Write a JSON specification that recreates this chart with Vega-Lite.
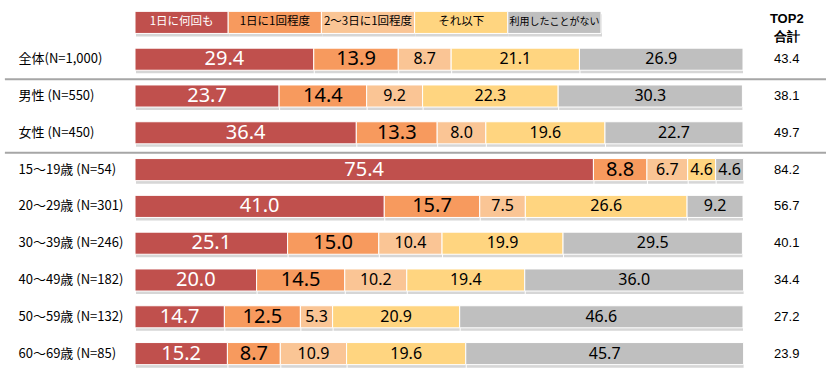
{
  "$schema": "https://vega.github.io/schema/vega-lite/v6.json",
  "width": 608,
  "height": 368,
  "autosize": {"type": "none"},
  "padding": {"left": 135, "top": 4, "right": 83, "bottom": 12},
  "background": "white",
  "config": {"view": {"stroke": null}},
  "datasets": {
    "bars": [
      {"row": "全体(N=1,000)", "k": 1, "cat": "1日に何回も", "value": 29.4},
      {"row": "全体(N=1,000)", "k": 2, "cat": "1日に1回程度", "value": 13.9},
      {"row": "全体(N=1,000)", "k": 3, "cat": "2～3日に1回程度", "value": 8.7},
      {"row": "全体(N=1,000)", "k": 4, "cat": "それ以下", "value": 21.1},
      {"row": "全体(N=1,000)", "k": 5, "cat": "利用したことがない", "value": 26.9},
      {"row": "男性 (N=550)", "k": 1, "cat": "1日に何回も", "value": 23.7},
      {"row": "男性 (N=550)", "k": 2, "cat": "1日に1回程度", "value": 14.4},
      {"row": "男性 (N=550)", "k": 3, "cat": "2～3日に1回程度", "value": 9.2},
      {"row": "男性 (N=550)", "k": 4, "cat": "それ以下", "value": 22.3},
      {"row": "男性 (N=550)", "k": 5, "cat": "利用したことがない", "value": 30.3},
      {"row": "女性 (N=450)", "k": 1, "cat": "1日に何回も", "value": 36.4},
      {"row": "女性 (N=450)", "k": 2, "cat": "1日に1回程度", "value": 13.3},
      {"row": "女性 (N=450)", "k": 3, "cat": "2～3日に1回程度", "value": 8.0},
      {"row": "女性 (N=450)", "k": 4, "cat": "それ以下", "value": 19.6},
      {"row": "女性 (N=450)", "k": 5, "cat": "利用したことがない", "value": 22.7},
      {"row": "15～19歳 (N=54)", "k": 1, "cat": "1日に何回も", "value": 75.4},
      {"row": "15～19歳 (N=54)", "k": 2, "cat": "1日に1回程度", "value": 8.8},
      {"row": "15～19歳 (N=54)", "k": 3, "cat": "2～3日に1回程度", "value": 6.7},
      {"row": "15～19歳 (N=54)", "k": 4, "cat": "それ以下", "value": 4.6},
      {"row": "15～19歳 (N=54)", "k": 5, "cat": "利用したことがない", "value": 4.6},
      {"row": "20～29歳 (N=301)", "k": 1, "cat": "1日に何回も", "value": 41.0},
      {"row": "20～29歳 (N=301)", "k": 2, "cat": "1日に1回程度", "value": 15.7},
      {"row": "20～29歳 (N=301)", "k": 3, "cat": "2～3日に1回程度", "value": 7.5},
      {"row": "20～29歳 (N=301)", "k": 4, "cat": "それ以下", "value": 26.6},
      {"row": "20～29歳 (N=301)", "k": 5, "cat": "利用したことがない", "value": 9.2},
      {"row": "30～39歳 (N=246)", "k": 1, "cat": "1日に何回も", "value": 25.1},
      {"row": "30～39歳 (N=246)", "k": 2, "cat": "1日に1回程度", "value": 15.0},
      {"row": "30～39歳 (N=246)", "k": 3, "cat": "2～3日に1回程度", "value": 10.4},
      {"row": "30～39歳 (N=246)", "k": 4, "cat": "それ以下", "value": 19.9},
      {"row": "30～39歳 (N=246)", "k": 5, "cat": "利用したことがない", "value": 29.5},
      {"row": "40～49歳 (N=182)", "k": 1, "cat": "1日に何回も", "value": 20.0},
      {"row": "40～49歳 (N=182)", "k": 2, "cat": "1日に1回程度", "value": 14.5},
      {"row": "40～49歳 (N=182)", "k": 3, "cat": "2～3日に1回程度", "value": 10.2},
      {"row": "40～49歳 (N=182)", "k": 4, "cat": "それ以下", "value": 19.4},
      {"row": "40～49歳 (N=182)", "k": 5, "cat": "利用したことがない", "value": 36.0},
      {"row": "50～59歳 (N=132)", "k": 1, "cat": "1日に何回も", "value": 14.7},
      {"row": "50～59歳 (N=132)", "k": 2, "cat": "1日に1回程度", "value": 12.5},
      {"row": "50～59歳 (N=132)", "k": 3, "cat": "2～3日に1回程度", "value": 5.3},
      {"row": "50～59歳 (N=132)", "k": 4, "cat": "それ以下", "value": 20.9},
      {"row": "50～59歳 (N=132)", "k": 5, "cat": "利用したことがない", "value": 46.6},
      {"row": "60～69歳 (N=85)", "k": 1, "cat": "1日に何回も", "value": 15.2},
      {"row": "60～69歳 (N=85)", "k": 2, "cat": "1日に1回程度", "value": 8.7},
      {"row": "60～69歳 (N=85)", "k": 3, "cat": "2～3日に1回程度", "value": 10.9},
      {"row": "60～69歳 (N=85)", "k": 4, "cat": "それ以下", "value": 19.6},
      {"row": "60～69歳 (N=85)", "k": 5, "cat": "利用したことがない", "value": 45.7}
    ],
    "rows": [
      {"row": "全体(N=1,000)", "top2": 43.4},
      {"row": "男性 (N=550)", "top2": 38.1},
      {"row": "女性 (N=450)", "top2": 49.7},
      {"row": "15～19歳 (N=54)", "top2": 84.2},
      {"row": "20～29歳 (N=301)", "top2": 56.7},
      {"row": "30～39歳 (N=246)", "top2": 40.1},
      {"row": "40～49歳 (N=182)", "top2": 34.4},
      {"row": "50～59歳 (N=132)", "top2": 27.2},
      {"row": "60～69歳 (N=85)", "top2": 23.9}
    ],
    "separators": [
      {"row": "全体(N=1,000)"},
      {"row": "女性 (N=450)"}
    ],
    "legend": [
      {"cat": "1日に何回も", "k": 1},
      {"cat": "1日に1回程度", "k": 2},
      {"cat": "2～3日に1回程度", "k": 3},
      {"cat": "それ以下", "k": 4},
      {"cat": "利用したことがない", "k": 5}
    ]
  },
  "layer": [
    {
      "layer": [
        {
          "data": {"name": "bars"},
          "transform": [
            {"stack": "value", "groupby": ["row"], "sort": [{"field": "k"}], "as": ["x0", "x1"]}
          ],
          "mark": {"type": "bar", "color": "#d6d6d6", "xOffset": 1, "yOffset": 3},
          "encoding": {
            "y": {
              "field": "row", "type": "nominal",
              "scale": {
                "domain": ["legend", "全体(N=1,000)", "男性 (N=550)", "女性 (N=450)", "15～19歳 (N=54)", "20～29歳 (N=301)", "30～39歳 (N=246)", "40～49歳 (N=182)", "50～59歳 (N=132)", "60～69歳 (N=85)"],
                "paddingInner": 0.4, "paddingOuter": 0.2
              },
              "axis": {
                "title": null, "domain": false, "ticks": false,
                "labelAlign": "left", "labelPadding": 117,
                "labelFont": "Noto Sans CJK JP", "labelFontSize": 13, "labelColor": "#000000",
                "labelExpr": "datum.value == 'legend' ? '' : datum.value"
              }
            },
            "x": {"field": "x0", "type": "quantitative", "scale": {"domain": [0, 100], "nice": false, "zero": false}, "axis": null},
            "x2": {"field": "x1"}
          }
        },
        {
          "data": {"name": "bars"},
          "transform": [
            {"stack": "value", "groupby": ["row"], "sort": [{"field": "k"}], "as": ["x0", "x1"]}
          ],
          "mark": {"type": "bar", "stroke": "white", "strokeWidth": 1},
          "encoding": {
            "y": {"field": "row", "type": "nominal"},
            "x": {"field": "x0", "type": "quantitative"},
            "x2": {"field": "x1"},
            "color": {
              "field": "cat", "type": "nominal", "legend": null,
              "scale": {
                "domain": ["1日に何回も", "1日に1回程度", "2～3日に1回程度", "それ以下", "利用したことがない"],
                "range": ["#C0504D", "#F79A5E", "#FAC595", "#FFD580", "#BFBFBF"]
              }
            }
          }
        },
        {
          "data": {"name": "bars"},
          "transform": [
            {"stack": "value", "groupby": ["row"], "sort": [{"field": "k"}], "as": ["x0", "x1"]},
            {"calculate": "(datum.x0 + datum.x1) / 2", "as": "mid"}
          ],
          "mark": {"type": "text", "font": "Noto Sans", "align": "center", "baseline": "middle"},
          "encoding": {
            "y": {"field": "row", "type": "nominal"},
            "x": {"field": "mid", "type": "quantitative"},
            "text": {"field": "value", "type": "quantitative", "format": ".1f"},
            "color": {"condition": {"test": "datum.k == 1", "value": "#ffffff"}, "value": "#000000"},
            "size": {"condition": {"test": "datum.k <= 2", "value": 20}, "value": 16}
          }
        },
        {
          "data": {"name": "rows"},
          "mark": {"type": "text", "font": "Liberation Sans", "fontSize": 13, "align": "center", "baseline": "middle", "color": "#000000"},
          "encoding": {
            "y": {"field": "row", "type": "nominal"},
            "x": {"datum": 107.2, "type": "quantitative"},
            "text": {"field": "top2", "type": "quantitative", "format": ".1f"}
          }
        },
        {
          "data": {"values": [{"t": "TOP2"}]},
          "mark": {"type": "text", "font": "Liberation Sans", "fontSize": 13, "fontWeight": "bold", "align": "center", "baseline": "middle", "color": "#000000", "lineBreak": "|", "lineHeight": 18, "dy": -3},
          "encoding": {
            "y": {"datum": "legend", "type": "nominal"},
            "x": {"datum": 107.2, "type": "quantitative"},
            "text": {"value": "TOP2|合計"}
          }
        },
        {
          "data": {"name": "separators"},
          "mark": {"type": "rule", "color": "#a6a6a6", "strokeWidth": 2, "yOffset": 20},
          "encoding": {
            "y": {"field": "row", "type": "nominal"},
            "x": {"datum": -21.4, "type": "quantitative"},
            "x2": {"datum": 147}
          }
        }
      ]
    },
    {
      "data": {"name": "legend"},
      "layer": [
        {
          "mark": {"type": "bar", "color": "#d6d6d6", "xOffset": 1, "yOffset": 3},
          "encoding": {
            "y": {"datum": "legend", "type": "nominal"},
            "x": {"field": "cat", "type": "nominal", "sort": null, "axis": null,
              "scale": {"domain": ["1日に何回も", "1日に1回程度", "2～3日に1回程度", "それ以下", "利用したことがない"], "range": [0, 466], "paddingInner": 0, "paddingOuter": 0}}
          }
        },
        {
          "mark": {"type": "bar", "stroke": "white", "strokeWidth": 1},
          "encoding": {
            "y": {"datum": "legend", "type": "nominal"},
            "x": {"field": "cat", "type": "nominal", "sort": null},
            "color": {"field": "cat", "type": "nominal", "legend": null}
          }
        },
        {
          "mark": {"type": "text", "font": "Noto Sans CJK JP", "align": "center", "baseline": "middle"},
          "encoding": {
            "y": {"datum": "legend", "type": "nominal"},
            "x": {"field": "cat", "type": "nominal", "sort": null},
            "text": {"field": "cat"},
            "size": {"condition": {"test": "datum.k == 5", "value": 10}, "value": 11.5},
            "color": {"condition": {"test": "datum.k == 1", "value": "#ffffff"}, "value": "#000000"}
          }
        }
      ]
    }
  ],
  "resolve": {"scale": {"x": "independent"}}
}
